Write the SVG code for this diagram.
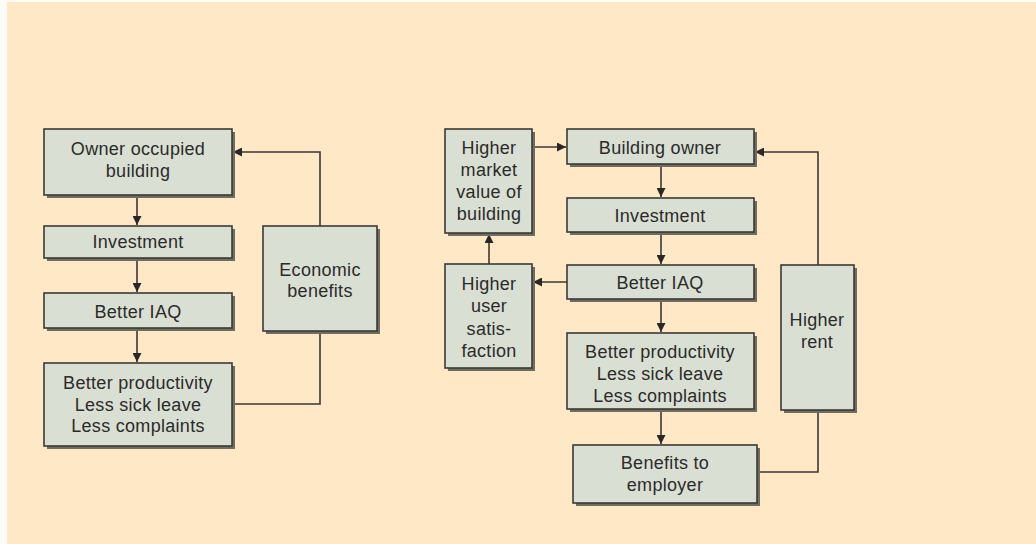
<svg xmlns="http://www.w3.org/2000/svg" width="1036" height="544" viewBox="0 0 1036 544">
<defs>
<style>
.bx{fill:#dadfd4;stroke:#3a3a36;stroke-width:1.6}
.sh{fill:#6f6c62}
.t{font-family:"Liberation Sans",Arial,sans-serif;font-size:18px;letter-spacing:0.3px;fill:#2b2b29;text-anchor:middle}
.c{fill:none;stroke:#3a3834;stroke-width:1.6}
</style>
<marker id="ah" viewBox="0 0 10 10" refX="10" refY="5" markerWidth="9" markerHeight="9" markerUnits="userSpaceOnUse" orient="auto">
<path d="M0,0 L10,5 L0,10 z" fill="#2a2826"/>
</marker>
</defs>
<rect width="1036" height="544" fill="#fee8c6"/>
<rect x="0" y="0" width="7" height="544" fill="#fdfbf6"/>
<rect x="0" y="0" width="1036" height="2" fill="#fdfbf6"/>

<g id="connectors">
<line class="c" x1="137" y1="195" x2="137" y2="225" marker-end="url(#ah)"/>
<line class="c" x1="137" y1="258" x2="137" y2="292" marker-end="url(#ah)"/>
<line class="c" x1="137" y1="328" x2="137" y2="362" marker-end="url(#ah)"/>
<polyline class="c" points="320,226 320,152 233,152" marker-end="url(#ah)"/>
<polyline class="c" points="232,404 320,404 320,331"/>
<line class="c" x1="532" y1="147" x2="566" y2="147" marker-end="url(#ah)"/>
<line class="c" x1="661" y1="164" x2="661" y2="197" marker-end="url(#ah)"/>
<line class="c" x1="661" y1="232" x2="661" y2="264" marker-end="url(#ah)"/>
<line class="c" x1="567" y1="282" x2="533" y2="282" marker-end="url(#ah)"/>
<line class="c" x1="489" y1="264" x2="489" y2="234" marker-end="url(#ah)"/>
<line class="c" x1="661" y1="299" x2="661" y2="332" marker-end="url(#ah)"/>
<line class="c" x1="661" y1="409" x2="661" y2="444" marker-end="url(#ah)"/>
<polyline class="c" points="757,472 818,472 818,411"/>
<polyline class="c" points="818,265 818,152 755,152" marker-end="url(#ah)"/>
</g>

<g id="owner-occupied">
<rect class="sh" x="47" y="132" width="188" height="66"/>
<rect class="bx" x="44" y="129" width="188" height="66"/>
<text class="t" x="138" y="155">Owner occupied</text>
<text class="t" x="138" y="177">building</text>
</g>
<g id="investment-left">
<rect class="sh" x="47" y="229" width="188" height="32"/>
<rect class="bx" x="44" y="226" width="188" height="32"/>
<text class="t" x="138" y="248">Investment</text>
</g>
<g id="iaq-left">
<rect class="sh" x="47" y="296" width="188" height="35"/>
<rect class="bx" x="44" y="293" width="188" height="35"/>
<text class="t" x="138" y="318">Better IAQ</text>
</g>
<g id="productivity-left">
<rect class="sh" x="47" y="366" width="188" height="83"/>
<rect class="bx" x="44" y="363" width="188" height="83"/>
<text class="t" x="138" y="389">Better productivity</text>
<text class="t" x="138" y="411">Less sick leave</text>
<text class="t" x="138" y="432">Less complaints</text>
</g>
<g id="economic-benefits">
<rect class="sh" x="266" y="229" width="114" height="105"/>
<rect class="bx" x="263" y="226" width="114" height="105"/>
<text class="t" x="320" y="276">Economic</text>
<text class="t" x="320" y="297">benefits</text>
</g>

<g id="market-value">
<rect class="sh" x="448" y="132" width="87" height="104"/>
<rect class="bx" x="445" y="129" width="87" height="104"/>
<text class="t" x="489" y="154">Higher</text>
<text class="t" x="489" y="176">market</text>
<text class="t" x="489" y="198">value of</text>
<text class="t" x="489" y="220">building</text>
</g>
<g id="building-owner">
<rect class="sh" x="570" y="132" width="187" height="35"/>
<rect class="bx" x="567" y="129" width="187" height="35"/>
<text class="t" x="660" y="154">Building owner</text>
</g>
<g id="investment-right">
<rect class="sh" x="570" y="201" width="187" height="34"/>
<rect class="bx" x="567" y="198" width="187" height="34"/>
<text class="t" x="660" y="222">Investment</text>
</g>
<g id="iaq-right">
<rect class="sh" x="570" y="268" width="187" height="34"/>
<rect class="bx" x="567" y="265" width="187" height="34"/>
<text class="t" x="660" y="289">Better IAQ</text>
</g>
<g id="user-satisfaction">
<rect class="sh" x="448" y="267" width="87" height="104"/>
<rect class="bx" x="445" y="264" width="87" height="104"/>
<text class="t" x="489" y="290">Higher</text>
<text class="t" x="489" y="312">user</text>
<text class="t" x="489" y="335">satis-</text>
<text class="t" x="489" y="357">faction</text>
</g>
<g id="productivity-right">
<rect class="sh" x="570" y="336" width="187" height="76"/>
<rect class="bx" x="567" y="333" width="187" height="76"/>
<text class="t" x="660" y="358">Better productivity</text>
<text class="t" x="660" y="380">Less sick leave</text>
<text class="t" x="660" y="402">Less complaints</text>
</g>
<g id="benefits-employer">
<rect class="sh" x="576" y="448" width="184" height="58"/>
<rect class="bx" x="573" y="445" width="184" height="58"/>
<text class="t" x="665" y="469">Benefits to</text>
<text class="t" x="665" y="491">employer</text>
</g>
<g id="higher-rent">
<rect class="sh" x="784" y="268" width="73" height="145"/>
<rect class="bx" x="781" y="265" width="73" height="145"/>
<text class="t" x="817" y="326">Higher</text>
<text class="t" x="817" y="348">rent</text>
</g>
</svg>
